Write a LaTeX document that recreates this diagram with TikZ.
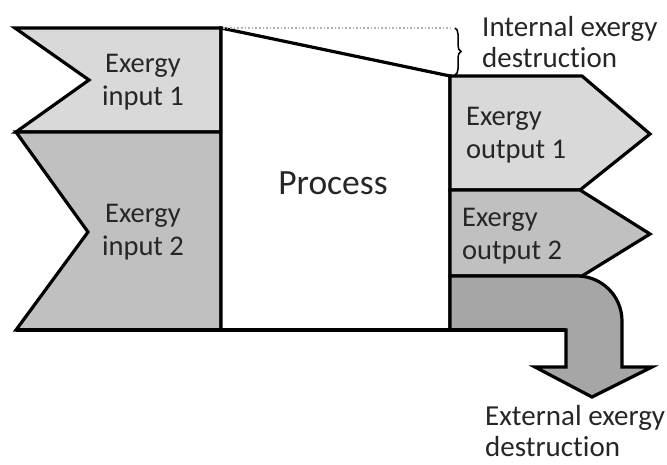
\documentclass[tikz,border=0pt]{standalone}
\usepackage{fontspec}
\setmainfont[Ligatures=NoCommon]{Carlito}
\usetikzlibrary{decorations.pathreplacing}
\tikzset{
  flow/.style={draw=black, line width=3.2pt, line join=miter},
  lbl/.style={font=\fontsize{28.5}{33}\selectfont, text=black!85, align=left, inner sep=0pt},
  lblc/.style={font=\fontsize{28.5}{33}\selectfont, text=black!85, align=center, inner sep=0pt},
  side/.style={font=\fontsize{29}{31}\selectfont, text=black!85, align=left, inner sep=0pt}
}
\definecolor{light}{HTML}{D9D9D9}
\definecolor{mid}{HTML}{C0C0C0}
\definecolor{dark}{HTML}{A6A6A6}
\begin{document}
\begin{tikzpicture}[x=1pt,y=-1pt]
\useasboundingbox (0,0) rectangle (667,464);
% inputs
\draw[flow, fill=light] (15,28) -- (221,28) -- (221,132) -- (16,132) -- (89,80) -- cycle;
\draw[flow, fill=mid] (16,132) -- (221,132) -- (221,330) -- (16,330) -- (88,232) -- cycle;
% process
\draw[flow, fill=white] (221,28) -- (450,76) -- (450,330) -- (221,330) -- cycle;
% outputs
\draw[flow, fill=light] (450,76) -- (582,76) -- (650,134) -- (580,190) -- (450,190) -- cycle;
\draw[flow, fill=mid] (450,190) -- (580,190) -- (650,234) -- (582,276) -- (450,276) -- cycle;
% external destruction
\draw[flow, fill=dark] (450,276) -- (577,276) arc[start angle=-90, end angle=0, radius=45] -- (622,367) -- (652,367) -- (592,397) -- (535,367) -- (566,367) -- (566,330) -- (450,330) -- cycle;
\draw[flow] (16,330) -- (566,330);
% internal destruction marker
\draw[gray!60, line width=1.6pt, dotted] (223,28) -- (452,28);
\draw[line width=1.5pt, decorate, decoration={brace, amplitude=6pt}] (455,28) -- (455,75);
% texts
\node[lblc] (in1) at (143,82) {Exergy\\input 1};
\node[lblc] (in2) at (143,232) {Exergy\\input 2};
\node[font=\fontsize{35.5}{40}\selectfont, text=black!85, inner sep=0pt] (proc) at (333,183) {Process};
\node[lbl, anchor=west] (out1) at (466,135) {Exergy\\output 1};
\node[lbl, anchor=west] (out2) at (462,236) {Exergy\\output 2};
\node[side, anchor=west] (int) at (482,42) {Internal exergy\\destruction};
\node[side, anchor=west] (ext) at (485,431) {External exergy\\destruction};
\end{tikzpicture}
\end{document}
